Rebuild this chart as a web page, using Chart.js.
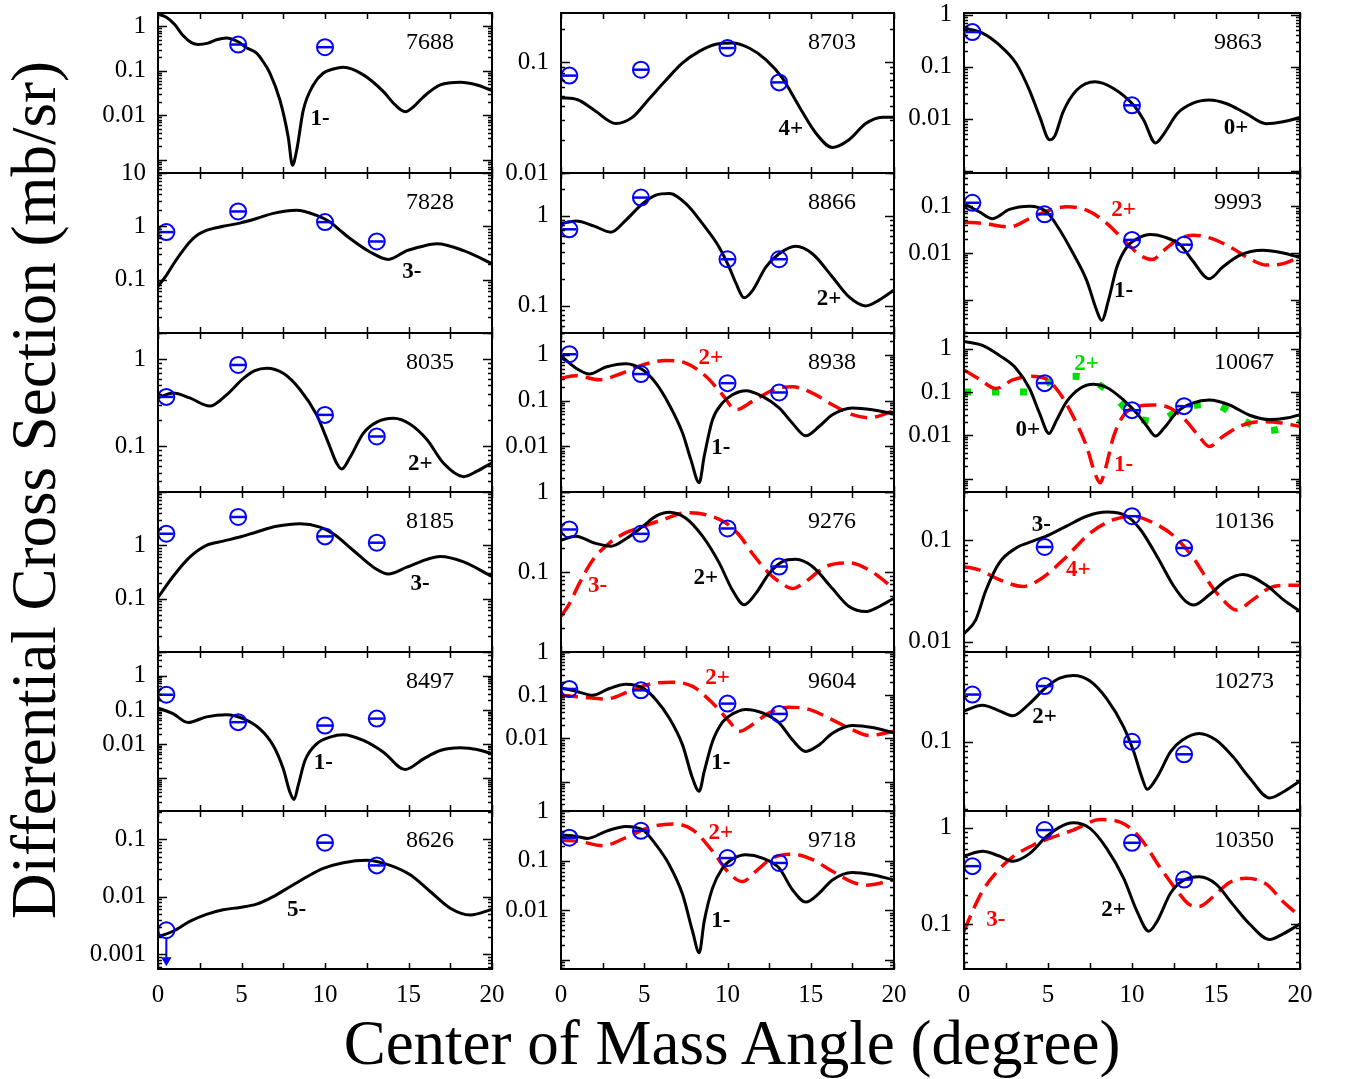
<!DOCTYPE html>
<html>
<head>
<meta charset="utf-8">
<script src="https://cdn.jsdelivr.net/npm/chart.js@4.4.0/dist/chart.umd.min.js"></script>
<style>
  body { margin: 0; background: #fff; }
  #wrap { position: relative; width: 1346px; height: 1079px; overflow: hidden; font-family: 'Liberation Serif', 'Times New Roman', serif; }
  #wrap canvas { position: absolute; }
  .title { position: absolute; font-size: 63px; line-height: 63px; white-space: nowrap; color: #000; }
</style>
</head>
<body>
<div id="wrap">
  <div class="title" style="left:34px;top:490px;transform:translate(-50%,-50%) rotate(-90deg);">Differential Cross Section (mb/sr)</div>
  <div class="title" style="left:732px;top:1043px;transform:translate(-50%,-50%);">Center of Mass Angle (degree)</div>
</div>
<script>
// =====================
// Data: angle (deg) vs cross section (mb/sr)
// =====================
const expAngles = [0.5, 4.8, 10, 13.1];
const xTicks = [0, 5, 10, 15, 20];

// calculated curves, [angle, value]
const c7688 = [[0,1.9],[0.5,1.6],[1,1.1],[1.5,0.62],[2,0.43],[2.4,0.39],[3,0.42],[3.5,0.5],[4.1,0.55],[4.8,0.45],[5.3,0.33],[5.9,0.25],[6.3,0.16],[6.7,0.089],[7.3,0.022],[7.8,0.0032],[8.05,0.00075],[8.3,0.0016],[8.7,0.013],[9.3,0.048],[9.9,0.089],[10.5,0.11],[11.1,0.12],[12.3,0.081],[13.5,0.034],[14.2,0.017],[14.8,0.012],[15.3,0.0155],[15.9,0.026],[16.9,0.048],[18.1,0.055],[19.1,0.048],[20,0.036]];
const c7828 = [[0,0.075],[0.5,0.12],[0.9,0.19],[1.4,0.32],[1.9,0.51],[2.4,0.7],[2.9,0.84],[3.9,1.0],[4.9,1.15],[5.9,1.4],[6.9,1.75],[8.3,2.0],[9.5,1.6],[10.3,1.2],[10.9,0.84],[11.5,0.59],[12.7,0.33],[13.8,0.24],[14.9,0.35],[15.8,0.42],[16.7,0.47],[18.3,0.35],[20,0.2]];
const c8035 = [[0,0.36],[0.9,0.41],[1.9,0.36],[3.1,0.29],[4.1,0.39],[5.1,0.6],[5.8,0.74],[6.5,0.79],[7.5,0.69],[8.5,0.45],[9.5,0.23],[10.2,0.11],[10.7,0.064],[11,0.055],[11.5,0.075],[12.3,0.142],[13.1,0.19],[14.1,0.21],[15.1,0.18],[16.1,0.12],[17.1,0.064],[18.3,0.045],[19.1,0.052],[20,0.065]];
const c8185 = [[0,0.105],[0.9,0.26],[1.9,0.6],[2.9,1.0],[3.9,1.2],[4.9,1.43],[5.9,1.78],[7.1,2.27],[8.5,2.55],[9.7,2.2],[10.5,1.65],[11.7,0.8],[12.9,0.39],[13.8,0.29],[14.9,0.39],[16.9,0.62],[18.3,0.49],[20,0.26]];
const c8497 = [[0,0.115],[0.9,0.078],[1.8,0.043],[2.9,0.063],[4.1,0.073],[5.1,0.056],[6.1,0.028],[6.9,0.0091],[7.5,0.0019],[7.9,0.00039],[8.15,0.00024],[8.4,0.00063],[8.8,0.0033],[9.5,0.0102],[10.3,0.016],[11.1,0.0188],[12.3,0.0128],[13.5,0.0058],[14.8,0.0018],[15.9,0.0037],[16.9,0.0065],[18.1,0.0078],[19.1,0.007],[20,0.0052]];
const c8626 = [[0,0.002],[0.9,0.0025],[1.9,0.0037],[2.9,0.0049],[3.9,0.0059],[4.9,0.0065],[5.9,0.0074],[6.9,0.01],[7.9,0.0149],[8.9,0.022],[9.9,0.031],[11.1,0.039],[12.5,0.043],[13.9,0.035],[15.1,0.024],[16.3,0.0123],[17.5,0.0063],[18.7,0.0048],[20,0.006]];
const c8703 = [[0,0.048],[1,0.046],[2,0.037],[3.3,0.028],[4.3,0.032],[5.3,0.047],[6.3,0.069],[7.3,0.099],[8.3,0.126],[9.3,0.146],[10.3,0.15],[11.3,0.135],[12.3,0.106],[13.3,0.072],[14.3,0.04],[15.3,0.023],[16.3,0.017],[17.3,0.02],[18.3,0.028],[19.3,0.032],[20,0.032]];
const c8866 = [[0,0.82],[0.9,0.88],[2,0.77],[3,0.66],[3.9,0.9],[4.9,1.37],[5.7,1.7],[6.5,1.77],[7.5,1.37],[8.5,0.82],[9.5,0.45],[10.1,0.27],[10.5,0.18],[11,0.123],[11.5,0.148],[12.3,0.27],[13.1,0.38],[14.1,0.46],[15.1,0.38],[16.3,0.21],[17.3,0.126],[18.3,0.1],[19.1,0.116],[20,0.15]];
const c8938a = [[0,0.95],[0.9,0.51],[1.7,0.38],[2.7,0.54],[3.9,0.64],[4.9,0.47],[5.7,0.24],[6.5,0.081],[7.3,0.0195],[7.8,0.0051],[8.3,0.0016],[8.6,0.006],[9.1,0.038],[9.7,0.089],[10.3,0.134],[11.1,0.164],[12.1,0.123],[13.1,0.069],[13.9,0.032],[14.7,0.017],[15.5,0.027],[16.3,0.049],[17.5,0.069],[18.7,0.063],[20,0.051]];
const c8938b = [[0,0.31],[0.9,0.35],[2.3,0.285],[3.7,0.4],[4.9,0.6],[6.3,0.75],[7.5,0.66],[8.7,0.34],[9.7,0.134],[10.5,0.063],[11.5,0.096],[12.9,0.18],[13.9,0.2],[15.1,0.146],[16.3,0.081],[17.5,0.049],[18.5,0.042],[20,0.06]];
const c9276a = [[0,0.25],[0.9,0.28],[2,0.23],[3,0.21],[3.9,0.26],[4.9,0.37],[5.7,0.5],[6.5,0.56],[7.5,0.47],[8.5,0.28],[9.5,0.13],[10.3,0.059],[11,0.039],[11.7,0.054],[12.5,0.096],[13.3,0.135],[14.1,0.144],[15.1,0.117],[16.3,0.062],[17.3,0.037],[18.3,0.032],[19.1,0.037],[20,0.047]];
const c9276b = [[0,0.028],[0.5,0.04],[1.1,0.072],[1.9,0.14],[2.9,0.23],[3.9,0.31],[4.9,0.37],[6.1,0.45],[7.5,0.55],[8.7,0.52],[9.9,0.41],[10.7,0.29],[11.5,0.17],[12.5,0.096],[13.3,0.071],[13.9,0.062],[14.7,0.076],[15.9,0.117],[17.3,0.13],[18.5,0.106],[20,0.062]];
const c9604a = [[0,0.148],[0.9,0.124],[1.9,0.1],[2.9,0.143],[3.9,0.18],[4.9,0.148],[5.7,0.079],[6.5,0.0297],[7.3,0.0071],[7.9,0.0012],[8.3,0.0006],[8.6,0.0017],[9.1,0.0085],[9.7,0.024],[10.3,0.037],[11.1,0.047],[12.1,0.039],[13.1,0.023],[13.9,0.0093],[14.7,0.005],[15.5,0.0071],[16.3,0.0132],[17.5,0.02],[18.7,0.018],[20,0.0135]];
const c9604b = [[0,0.1],[1.3,0.09],[2.7,0.082],[4.1,0.123],[5.3,0.18],[6.7,0.2],[7.9,0.16],[9.1,0.066],[10.1,0.025],[10.7,0.0146],[11.5,0.021],[12.5,0.039],[13.7,0.053],[14.9,0.047],[16.3,0.027],[17.5,0.016],[18.5,0.0117],[20,0.0146]];
const c9718a = [[0,0.33],[0.9,0.31],[1.6,0.28],[2.7,0.39],[3.9,0.49],[4.9,0.42],[5.7,0.21],[6.5,0.083],[7.3,0.021],[7.9,0.0038],[8.3,0.0014],[8.6,0.006],[9.1,0.028],[9.7,0.071],[10.3,0.108],[11.1,0.132],[12.1,0.113],[13.1,0.071],[13.9,0.026],[14.7,0.0147],[15.5,0.022],[16.3,0.041],[17.5,0.058],[18.7,0.052],[20,0.041]];
const c9718b = [[0,0.26],[1.1,0.245],[2.5,0.2],[3.9,0.29],[5.3,0.47],[6.7,0.55],[7.9,0.42],[9.1,0.155],[10.1,0.056],[10.9,0.038],[11.7,0.061],[12.7,0.113],[13.9,0.135],[15.1,0.105],[16.3,0.061],[17.5,0.037],[18.3,0.032],[20,0.041]];
const c9863 = [[0,0.55],[1.1,0.44],[2.1,0.26],[3.1,0.116],[3.9,0.035],[4.5,0.011],[5.1,0.0039],[5.4,0.0046],[5.9,0.0135],[6.7,0.035],[7.8,0.051],[8.9,0.038],[10.1,0.018],[10.7,0.0093],[11.4,0.0034],[11.9,0.0051],[12.7,0.0125],[13.6,0.0195],[14.6,0.0227],[15.6,0.0195],[16.8,0.0125],[18,0.008],[19,0.0087],[20,0.0105]];
const c9993a = [[0,0.114],[0.9,0.076],[1.7,0.054],[2.7,0.085],[3.9,0.1],[4.9,0.076],[5.7,0.031],[6.5,0.0097],[7.3,0.0026],[7.9,0.00059],[8.2,0.00036],[8.6,0.00098],[9.1,0.005],[9.7,0.0135],[10.3,0.02],[11.1,0.0247],[11.9,0.022],[12.9,0.0146],[13.6,0.0069],[14.6,0.0028],[15.4,0.005],[16.4,0.0089],[17.8,0.0114],[19,0.01],[20,0.008]];
const c9993b = [[0,0.045],[1.1,0.043],[2.7,0.036],[4.1,0.059],[5.1,0.082],[6.1,0.097],[7.3,0.082],[8.5,0.043],[9.5,0.019],[10.5,0.0089],[11.2,0.0072],[11.9,0.0114],[12.7,0.019],[13.6,0.024],[14.8,0.02],[16,0.0124],[17,0.0075],[18,0.0055],[19,0.0059],[20,0.0082]];
const c10067a = [[0,1.47],[1.1,1.19],[2.1,0.7],[3.1,0.35],[3.9,0.12],[4.5,0.032],[5.06,0.011],[5.5,0.022],[6.1,0.059],[6.9,0.12],[7.7,0.15],[8.5,0.127],[9.5,0.065],[10.3,0.032],[10.9,0.016],[11.4,0.0096],[11.9,0.0145],[12.7,0.035],[13.6,0.055],[14.6,0.065],[15.8,0.05],[17,0.029],[18.2,0.023],[19.2,0.025],[20,0.03]];
const c10067b = [[0,0.32],[0.9,0.2],[1.9,0.12],[2.9,0.19],[3.9,0.23],[4.9,0.2],[5.7,0.093],[6.5,0.027],[7.3,0.0055],[7.8,0.0013],[8.1,0.0008],[8.4,0.0016],[8.9,0.0093],[9.5,0.029],[10.3,0.046],[11.3,0.05],[12.3,0.042],[13.2,0.022],[14,0.0093],[14.6,0.0055],[15.4,0.0093],[16.4,0.016],[17.6,0.0205],[18.8,0.0195],[20,0.016]];
const c10067c = [[0,0.1],[2,0.1],[3.8,0.1],[4.8,0.15],[5.6,0.21],[6.5,0.23],[7.3,0.21],[8.8,0.09],[10.1,0.028],[11.5,0.021],[13,0.042],[14.8,0.052],[16.4,0.025],[18.1,0.0127],[20,0.02]];
const c10136a = [[0,0.012],[0.7,0.0164],[1.3,0.032],[2.1,0.06],[3.1,0.084],[4.1,0.098],[5.1,0.114],[6.1,0.138],[7.3,0.173],[8.5,0.19],[9.7,0.173],[10.5,0.128],[11.5,0.069],[12.5,0.035],[13.2,0.025],[13.7,0.023],[14.6,0.029],[15.6,0.04],[16.6,0.046],[18,0.036],[19,0.026],[20,0.02]];
const c10136b = [[0,0.055],[0.9,0.051],[2.1,0.041],[3.5,0.035],[4.7,0.043],[6.1,0.069],[7.5,0.118],[8.9,0.16],[10.1,0.173],[11.3,0.148],[12.5,0.11],[13.6,0.069],[14.8,0.034],[15.6,0.024],[16.2,0.0205],[17.2,0.026],[18.2,0.034],[19.2,0.036],[20,0.036]];
const c10273 = [[0,0.21],[1.1,0.24],[2.1,0.21],[2.9,0.186],[3.9,0.25],[4.9,0.37],[5.7,0.46],[6.5,0.49],[7.5,0.43],[8.5,0.28],[9.5,0.143],[10.1,0.079],[10.6,0.042],[10.9,0.032],[11.5,0.043],[12.3,0.079],[13,0.104],[14,0.122],[15,0.104],[16,0.07],[17,0.042],[18.2,0.026],[19,0.03],[20,0.039]];
const c10350a = [[0,0.51],[1.1,0.57],[2.1,0.51],[2.9,0.45],[3.9,0.54],[4.9,0.81],[5.7,1.02],[6.5,1.13],[7.5,0.99],[8.5,0.61],[9.5,0.3],[10.3,0.135],[11,0.084],[11.5,0.107],[12.3,0.21],[13,0.28],[14,0.31],[15,0.26],[16,0.16],[17,0.1],[18.2,0.069],[19,0.079],[20,0.1]];
const c10350b = [[0,0.084],[0.5,0.135],[1.1,0.22],[1.9,0.34],[2.9,0.5],[4.1,0.66],[5.1,0.78],[6.5,0.95],[8.1,1.22],[9.3,1.15],[10.5,0.78],[11.7,0.38],[12.7,0.22],[13.4,0.16],[14,0.152],[14.8,0.19],[15.8,0.27],[16.8,0.3],[18,0.26],[19,0.17],[20,0.12]];

// measured points at expAngles
const e7688 = [null, 0.39, 0.34, null];
const e7828 = [0.78, 1.9, 1.2, 0.52];
const e8035 = [0.37, 0.86, 0.23, 0.13];
const e8185 = [1.65, 3.4, 1.47, 1.12];
const e8497 = [0.28, 0.044, 0.035, 0.056];
const e8626 = [null, null, 0.087, 0.035];
const limit8626 = [0.0026];          // upper limit at 0.5 deg
const e8703 = [0.076, 0.086, 0.135, 0.066];
const e8866 = [0.71, 1.6, 0.33, 0.33];
const e8938 = [1.03, 0.38, 0.24, 0.15];
const e9276 = [0.34, 0.3, 0.35, 0.117];
const e9604 = [0.14, 0.13, 0.064, 0.037];
const e9718 = [0.29, 0.4, 0.113, 0.09];
const e9863 = [0.46, null, 0.018, null];
const e9993 = [0.118, 0.067, 0.019, 0.015];
const e10067 = [null, 0.16, 0.038, 0.047];
const e10136 = [null, 0.086, 0.173, 0.084];
const e10273 = [0.31, 0.38, 0.1, 0.074];
const e10350 = [0.4, 0.95, 0.7, 0.29];

// labelled y ticks
const yt7688 = [1, 0.1, 0.01];
const yt7828 = [10, 1, 0.1];
const yt8035 = [1, 0.1];
const yt8185 = [1, 0.1];
const yt8497 = [1, 0.1, 0.01];
const yt8626 = [0.1, 0.01, 0.001];
const yt8703 = [0.1, 0.01];
const yt8866 = [1, 0.1];
const yt8938 = [1, 0.1, 0.01];
const yt9276 = [1, 0.1];
const yt9604 = [1, 0.1, 0.01];
const yt9718 = [1, 0.1, 0.01];
const yt9863 = [1, 0.1, 0.01];
const yt9993 = [0.1, 0.01];
const yt10067 = [1, 0.1, 0.01];
const yt10136 = [0.1, 0.01];
const yt10273 = [0.1];
const yt10350 = [1, 0.1];

// =====================
// Layout / styles
// =====================
const BLACK = '#000000', RED = '#ff0000', GREEN = '#00e000', BLUE = '#0000ff';
const solid = { color: BLACK, width: 3, dash: [] };
const dashed = { color: RED, width: 3.5, dash: [17, 8] };
const dotted = { color: GREEN, width: 7, dash: [7, 21] };

const colLeft = [158, 561, 964];
const colWidth = [334, 333, 336];
const rowTop = [13, 173, 333, 492, 652, 811, 969];

const panels = [
  { name: '7688', col: 0, row: 0, min: 5e-4, max: 2, ticks: yt7688, exp: e7688,
    curves: [[c7688, solid]], labels: [['1-', 9.7, 0.0083, BLACK]] },
  { name: '7828', col: 0, row: 1, min: 0.01, max: 10, ticks: yt7828, exp: e7828,
    curves: [[c7828, solid]], labels: [['3-', 15.2, 0.14, BLACK]] },
  { name: '8035', col: 0, row: 2, min: 0.03, max: 2, ticks: yt8035, exp: e8035,
    curves: [[c8035, solid]], labels: [['2+', 15.7, 0.062, BLACK]] },
  { name: '8185', col: 0, row: 3, min: 0.01, max: 10, ticks: yt8185, exp: e8185,
    curves: [[c8185, solid]], labels: [['3-', 15.7, 0.19, BLACK]] },
  { name: '8497', col: 0, row: 4, min: 1.1e-4, max: 5, ticks: yt8497, exp: e8497,
    curves: [[c8497, solid]], labels: [['1-', 9.9, 0.0027, BLACK]] },
  { name: '8626', col: 0, row: 5, min: 5.5e-4, max: 0.31, ticks: yt8626, exp: e8626, limit: limit8626,
    curves: [[c8626, solid]], labels: [['5-', 8.3, 0.0059, BLACK]] },
  { name: '8703', col: 1, row: 0, min: 0.01, max: 0.28, ticks: yt8703, exp: e8703,
    curves: [[c8703, solid]], labels: [['4+', 13.8, 0.025, BLACK]] },
  { name: '8866', col: 1, row: 1, min: 0.05, max: 3, ticks: yt8866, exp: e8866,
    curves: [[c8866, solid]], labels: [['2+', 16.1, 0.12, BLACK]] },
  { name: '8938', col: 1, row: 2, min: 0.001, max: 3, ticks: yt8938, exp: e8938,
    curves: [[c8938a, solid], [c8938b, dashed]], labels: [['2+', 9.0, 0.85, RED], ['1-', 9.6, 0.0093, BLACK]] },
  { name: '9276', col: 1, row: 3, min: 0.01, max: 1, ticks: yt9276, exp: e9276,
    curves: [[c9276a, solid], [c9276b, dashed]], labels: [['3-', 2.2, 0.066, RED], ['2+', 8.7, 0.083, BLACK]] },
  { name: '9604', col: 1, row: 4, min: 2.1e-4, max: 1, ticks: yt9604, exp: e9604,
    curves: [[c9604a, solid], [c9604b, dashed]], labels: [['2+', 9.4, 0.25, RED], ['1-', 9.6, 0.0027, BLACK]] },
  { name: '9718', col: 1, row: 5, min: 6.6e-4, max: 1, ticks: yt9718, exp: e9718,
    curves: [[c9718a, solid], [c9718b, dashed]], labels: [['2+', 9.6, 0.36, RED], ['1-', 9.6, 0.006, BLACK]] },
  { name: '9863', col: 2, row: 0, min: 9e-4, max: 1.07, ticks: yt9863, exp: e9863,
    curves: [[c9863, solid]], labels: [['0+', 16.2, 0.0065, BLACK]] },
  { name: '9993', col: 2, row: 1, min: 1.95e-4, max: 0.51, ticks: yt9993, exp: e9993,
    curves: [[c9993a, solid], [c9993b, dashed]], labels: [['2+', 9.5, 0.082, RED], ['1-', 9.5, 0.0015, BLACK]] },
  { name: '10067', col: 2, row: 2, min: 4.9e-4, max: 2.3, ticks: yt10067, exp: e10067,
    curves: [[c10067a, solid], [c10067b, dashed], [c10067c, dotted]],
    labels: [['0+', 3.8, 0.013, BLACK], ['1-', 9.5, 0.0021, RED], ['2+', 7.3, 0.45, GREEN]] },
  { name: '10136', col: 2, row: 3, min: 0.0079, max: 0.3, ticks: yt10136, exp: e10136,
    curves: [[c10136a, solid], [c10136b, dashed]], labels: [['3-', 4.6, 0.143, BLACK], ['4+', 6.8, 0.051, RED]] },
  { name: '10273', col: 2, row: 4, min: 0.019, max: 0.86, ticks: yt10273, exp: e10273,
    curves: [[c10273, solid]], labels: [['2+', 4.8, 0.18, BLACK]] },
  { name: '10350', col: 2, row: 5, min: 0.034, max: 1.5, ticks: yt10350, exp: e10350,
    curves: [[c10350a, solid], [c10350b, dashed]], labels: [['3-', 1.9, 0.111, RED], ['2+', 8.9, 0.14, BLACK]] }
];

const PAD = { left: 110, right: 20, top: 20, bottom: 20 };
const SERIF = '"Liberation Serif", "Times New Roman", serif';

// frame, inward ticks and texts of one panel
function makeFrame(p) {
  return {
    id: 'frame' + p.name,
    afterDraw(chart) {
      const { ctx, chartArea: a, scales: { x, y } } = chart;
      ctx.save();
      ctx.strokeStyle = BLACK;
      ctx.lineWidth = 1.5;
      ctx.beginPath();
      for (let v = 0; v <= 20; v += 2.5) {
        const px = Math.round(x.getPixelForValue(v)) + 0.5;
        ctx.moveTo(px, a.top); ctx.lineTo(px, a.top + 6);
        ctx.moveTo(px, a.bottom); ctx.lineTo(px, a.bottom - 6);
      }
      const d0 = Math.floor(Math.log10(p.min)), d1 = Math.ceil(Math.log10(p.max));
      for (let d = d0; d <= d1; d++) {
        for (let m = 1; m <= 9; m++) {
          const v = m * Math.pow(10, d);
          if (v < p.min * 0.999 || v > p.max * 1.001) continue;
          const py = Math.round(y.getPixelForValue(v)) + 0.5;
          const len = m === 1 ? 9 : 4;
          ctx.moveTo(a.left, py); ctx.lineTo(a.left + len, py);
          ctx.moveTo(a.right, py); ctx.lineTo(a.right - len, py);
        }
      }
      ctx.stroke();
      ctx.lineWidth = 2;
      ctx.strokeRect(a.left, a.top, a.right - a.left, a.bottom - a.top);

      ctx.fillStyle = BLACK;
      ctx.font = '25px ' + SERIF;
      ctx.textAlign = 'right';
      ctx.textBaseline = 'middle';
      p.ticks.forEach(v => ctx.fillText(String(v), a.left - 12, y.getPixelForValue(v)));
      if (p.row === 5) {
        ctx.textAlign = 'center';
        xTicks.forEach(v => ctx.fillText(String(v), x.getPixelForValue(v), a.bottom + 26));
      }
      ctx.textAlign = 'left';
      ctx.font = '24px ' + SERIF;
      ctx.fillText(p.name, a.right - 86, a.top + 30);

      ctx.textAlign = 'center';
      ctx.font = 'bold 23px ' + SERIF;
      p.labels.forEach(([t, lx, ly, col]) => {
        ctx.fillStyle = col;
        ctx.fillText(t, x.getPixelForValue(lx), y.getPixelForValue(ly));
      });
      ctx.restore();
    }
  };
}

const wrap = document.getElementById('wrap');

panels.forEach(p => {
  const top = rowTop[p.row];
  const w = colWidth[p.col], h = rowTop[p.row + 1] - top;
  const padB = p.row === 5 ? 50 : PAD.bottom;
  const cv = document.createElement('canvas');
  cv.width = w + PAD.left + PAD.right;
  cv.height = h + PAD.top + padB;
  cv.style.left = (colLeft[p.col] - PAD.left) + 'px';
  cv.style.top = (top - PAD.top) + 'px';
  wrap.appendChild(cv);

  const pts = expAngles.map((a, i) => ({ x: a, y: p.exp[i] })).filter(d => d.y != null);
  const datasets = [
    { data: pts, showLine: false, pointStyle: 'line', pointRadius: 7, pointBorderWidth: 2.5,
      pointBorderColor: BLUE, clip: false },
    { data: pts, showLine: false, pointStyle: 'circle', pointRadius: 8, pointBorderWidth: 2,
      pointBorderColor: BLUE, pointBackgroundColor: 'rgba(0,0,0,0)', clip: false }
  ];
  if (p.limit) {
    const v = p.limit[0];
    datasets.push({ data: [{ x: expAngles[0], y: v }], showLine: false, pointStyle: 'circle', pointRadius: 8,
      pointBorderWidth: 2, pointBorderColor: BLUE, pointBackgroundColor: 'rgba(0,0,0,0)', clip: false });
    datasets.push({ data: [{ x: expAngles[0], y: v * 0.73 }, { x: expAngles[0], y: v * 0.3 }],
      borderColor: BLUE, borderWidth: 2, pointRadius: [0, 4], pointStyle: 'triangle', pointRotation: 180,
      pointBorderColor: BLUE, pointBackgroundColor: BLUE, clip: false });
  }
  p.curves.forEach(([c, s]) => {
    datasets.push({
      data: c.map(([x, y]) => ({ x, y })),
      borderColor: s.color, borderWidth: s.width, borderDash: s.dash,
      pointRadius: 0, fill: false, cubicInterpolationMode: 'monotone'
    });
  });

  new Chart(cv, {
    type: 'line',
    data: { datasets },
    options: {
      responsive: false,
      animation: false,
      events: [],
      layout: { padding: { left: PAD.left, right: PAD.right, top: PAD.top, bottom: padB } },
      plugins: { legend: { display: false }, tooltip: { enabled: false } },
      scales: {
        x: { type: 'linear', min: 0, max: 20, display: false },
        y: { type: 'logarithmic', min: p.min, max: p.max, display: false }
      }
    },
    plugins: [makeFrame(p)]
  });
});
</script>
</body>
</html>
